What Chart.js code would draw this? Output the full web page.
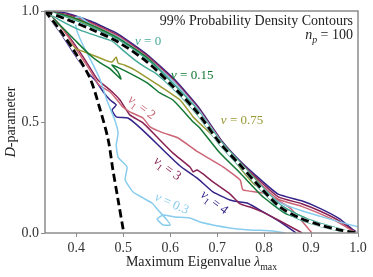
<!DOCTYPE html>
<html>
<head>
<meta charset="utf-8">
<script src="https://cdn.jsdelivr.net/npm/chart.js@4.4.1/dist/chart.umd.min.js"></script>
<style>
  html, body { margin: 0; padding: 0; background: #fff; }
  canvas { display: block; }
</style>
</head>
<body>
<canvas id="contourChart" width="373" height="277"></canvas>
<script>
// axis ticks
const xTicks = [0.4, 0.5, 0.6, 0.7, 0.8, 0.9, 1.0];
const yTicks = [0.0, 0.5, 1.0];

// dashed bounds
const upperBoundX = [0.3333, 0.382, 0.429, 0.489, 0.551, 0.606, 0.657, 0.706, 0.749, 0.791, 0.834, 0.876, 0.919, 0.962, 1.0];
const upperBoundY = [1.0, 0.96, 0.92, 0.86, 0.77, 0.66, 0.545, 0.405, 0.306, 0.207, 0.117, 0.068, 0.036, 0.013, 0.0];
const lowerBoundX = [0.3333, 0.365, 0.397, 0.429, 0.451, 0.468, 0.478, 0.489, 0.5];
const lowerBoundY = [1.0, 0.915, 0.815, 0.698, 0.554, 0.419, 0.284, 0.149, 0.014];

// shared x grid for the upper sides of the nu_1 contours
const bandX = [0.38, 0.43, 0.49, 0.55, 0.61, 0.66, 0.71, 0.75, 0.79, 0.83, 0.88, 0.92, 0.96, 0.99, 1.0];

// nu_1 = 4
const nu14LowerX = [0.868, 0.834, 0.798, 0.764, 0.749, 0.727, 0.691, 0.657, 0.621, 0.585, 0.557, 0.529, 0.510, 0.485, 0.476, 0.485, 0.472, 0.459, 0.440, 0.423, 0.393, 0.365, 0.3333];
const nu14LowerY = [0.0, 0.05, 0.095, 0.135, 0.14, 0.149, 0.185, 0.248, 0.302, 0.374, 0.432, 0.487, 0.518, 0.523, 0.554, 0.577, 0.599, 0.631, 0.689, 0.725, 0.815, 0.906, 1.0];
const nu14UpperY = [0.99, 0.955, 0.895, 0.805, 0.69, 0.568, 0.415, 0.322, 0.245, 0.175, 0.145, 0.11, 0.065, 0.014, 0.0];

// nu_1 = 3
const nu13LowerX = [0.881, 0.834, 0.796, 0.770, 0.749, 0.727, 0.691, 0.670, 0.657, 0.649, 0.642, 0.606, 0.578, 0.542, 0.514, 0.493, 0.472, 0.446, 0.419, 0.387, 0.355, 0.3333];
const nu13LowerY = [0.0, 0.054, 0.095, 0.117, 0.131, 0.176, 0.230, 0.266, 0.284, 0.275, 0.297, 0.360, 0.419, 0.496, 0.532, 0.599, 0.644, 0.689, 0.779, 0.878, 0.959, 1.0];
const nu13UpperY = [0.985, 0.95, 0.889, 0.8, 0.684, 0.562, 0.411, 0.318, 0.236, 0.163, 0.132, 0.098, 0.055, 0.01, 0.0];

// nu_1 = 2
const nu12LowerX = [0.902, 0.855, 0.798, 0.755, 0.749, 0.713, 0.659, 0.617, 0.585, 0.557, 0.542, 0.514, 0.499, 0.487, 0.472, 0.459, 0.451, 0.444, 0.429, 0.408, 0.380, 0.355, 0.3333];
const nu12LowerY = [0.0, 0.113, 0.180, 0.194, 0.239, 0.297, 0.365, 0.428, 0.451, 0.478, 0.518, 0.546, 0.568, 0.599, 0.635, 0.653, 0.662, 0.680, 0.734, 0.802, 0.892, 0.959, 1.0];
const nu12UpperY = [0.98, 0.945, 0.884, 0.795, 0.679, 0.557, 0.408, 0.314, 0.226, 0.152, 0.12, 0.086, 0.046, 0.008, 0.0];

// nu = 0.3
const nu03LowerX = [0.844, 0.819, 0.770, 0.727, 0.663, 0.642, 0.610, 0.585, 0.572, 0.585, 0.600, 0.593, 0.574, 0.561, 0.542, 0.521, 0.504, 0.508, 0.489, 0.485, 0.489, 0.482, 0.465, 0.451, 0.436, 0.423, 0.412, 0.401, 0.397, 0.408];
const nu03LowerY = [0.0, 0.009, 0.014, 0.023, 0.050, 0.068, 0.072, 0.081, 0.063, 0.036, 0.036, 0.059, 0.104, 0.135, 0.158, 0.185, 0.239, 0.297, 0.342, 0.396, 0.45, 0.509, 0.599, 0.689, 0.757, 0.811, 0.856, 0.914, 0.969, 0.973];
const nu03UpperX = [0.43, 0.49, 0.55, 0.61, 0.66, 0.71, 0.75, 0.79, 0.83, 0.88, 0.92, 0.96, 1.0];
const nu03UpperY = [0.94, 0.88, 0.79, 0.676, 0.555, 0.406, 0.31, 0.215, 0.14, 0.1, 0.075, 0.05, 0.028];

// nu = 0.15
const nu015LowerX = [0.3333, 0.365, 0.397, 0.429, 0.451, 0.472, 0.495, 0.489, 0.476, 0.504, 0.551, 0.578, 0.606, 0.649, 0.663, 0.706, 0.749, 0.798, 0.844, 0.876, 0.889];
const nu015LowerY = [1.0, 0.937, 0.869, 0.802, 0.766, 0.739, 0.694, 0.725, 0.757, 0.730, 0.676, 0.631, 0.599, 0.50, 0.473, 0.36, 0.27, 0.162, 0.09, 0.065, 0.066];
const nu015UpperX = [0.88, 0.834, 0.791, 0.749, 0.706, 0.657, 0.606, 0.551, 0.489, 0.429, 0.382, 0.3333];
const nu015UpperY = [0.075, 0.122, 0.214, 0.313, 0.413, 0.553, 0.672, 0.789, 0.878, 0.94, 0.978, 1.0];

// nu = 0.75
const nu075LowerX = [0.3333, 0.348, 0.365, 0.382, 0.397, 0.429, 0.461, 0.476, 0.485, 0.489, 0.502, 0.525, 0.574, 0.621, 0.649, 0.685, 0.721, 0.749, 0.781];
const nu075LowerY = [1.0, 0.959, 0.914, 0.869, 0.833, 0.806, 0.779, 0.770, 0.793, 0.766, 0.757, 0.734, 0.667, 0.599, 0.523, 0.450, 0.374, 0.293, 0.216];
const nu075UpperX = [0.79, 0.749, 0.706, 0.657, 0.606, 0.551, 0.489, 0.429, 0.382, 0.3333];
const nu075UpperY = [0.222, 0.315, 0.414, 0.553, 0.67, 0.78, 0.872, 0.935, 0.975, 1.0];

// nu = 0
const nu0LowerX = [0.3333, 0.365, 0.408, 0.451, 0.476, 0.499, 0.525, 0.546, 0.568, 0.606, 0.657, 0.706, 0.749, 0.791, 0.834, 0.876, 0.919, 0.962, 0.99];
const nu0LowerY = [1.0, 0.959, 0.914, 0.883, 0.865, 0.824, 0.779, 0.748, 0.721, 0.65, 0.535, 0.395, 0.297, 0.198, 0.108, 0.06, 0.03, 0.009, 0.0];
const nu0UpperX = [0.962, 0.919, 0.876, 0.834, 0.791, 0.749, 0.706, 0.657, 0.606, 0.551, 0.489, 0.429, 0.382, 0.3333];
const nu0UpperY = [0.018, 0.044, 0.078, 0.128, 0.218, 0.318, 0.417, 0.556, 0.673, 0.782, 0.87, 0.93, 0.97, 1.0];

// contour labels: [text parts, x, y, angle, colour key]
const labelPos = {
    nu0:   [0.553, 0.865, 0],
    nu015: [0.647, 0.712, 0],
    nu075: [0.753, 0.509, 0],
    nu12:  [0.540, 0.568, 37],
    nu13:  [0.595, 0.293, 37],
    nu03:  [0.604, 0.135, 24],
    nu14:  [0.695, 0.140, 37]
};

const COLORS = {
    nu0: '#44AA99',
    nu015: '#117733',
    nu03: '#88CCEE',
    nu075: '#999933',
    nu12: '#CC6677',
    nu13: '#882255',
    nu14: '#332288'
};

const FONT = "'Liberation Serif', 'Times New Roman', serif";

function series(xs, ys) {
    return xs.map((x, i) => ({ x: x, y: ys[i] }));
}

function contourSet(points, color) {
    return {
        data: points,
        showLine: true,
        borderColor: color,
        borderWidth: 1.5,
        pointRadius: 0,
        tension: 0.15,
        fill: false,
        order: 2
    };
}

// draw text made of pieces (italic / subscript)
function drawMath(ctx, parts, x, y, size, color, align, angle, middle) {
    ctx.save();
    ctx.translate(x, y);
    ctx.rotate(angle * Math.PI / 180);
    ctx.fillStyle = color;
    ctx.textBaseline = 'alphabetic';
    ctx.textAlign = 'left';
    const fontOf = p => (p.i ? 'italic ' : '') + (p.s ? size * 0.7 : size) + 'px ' + FONT;
    let w = 0;
    parts.forEach(p => { ctx.font = fontOf(p); w += ctx.measureText(p.t).width; });
    let cx = align === 'right' ? -w : (align === 'center' ? -w / 2 : 0);
    const base = middle ? size * 0.33 : 0;
    parts.forEach(p => {
        ctx.font = fontOf(p);
        ctx.fillText(p.t, cx, base + (p.s ? size * 0.25 : 0));
        cx += ctx.measureText(p.t).width;
    });
    ctx.restore();
}

const NU = '\u03bd';
const labelText = {
    nu0:   [{ t: NU, i: true }, { t: ' = 0' }],
    nu015: [{ t: NU, i: true }, { t: ' = 0.15' }],
    nu075: [{ t: NU, i: true }, { t: ' = 0.75' }],
    nu12:  [{ t: NU, i: true }, { t: '1', s: true }, { t: ' = 2' }],
    nu13:  [{ t: NU, i: true }, { t: '1', s: true }, { t: ' = 3' }],
    nu03:  [{ t: NU, i: true }, { t: ' = 0.3' }],
    nu14:  [{ t: NU, i: true }, { t: '1', s: true }, { t: ' = 4' }]
};

const textPlugin = {
    id: 'textPlugin',
    afterDraw(chart) {
        const ctx = chart.ctx;
        const a = chart.chartArea;
        const sx = chart.scales.x, sy = chart.scales.y;

        // frame
        ctx.save();
        ctx.strokeStyle = '#8c8c8c';
        ctx.lineWidth = 1.5;
        ctx.strokeRect(a.left, a.top, a.right - a.left, a.bottom - a.top);
        ctx.restore();

        // contour labels
        Object.keys(labelPos).forEach(k => {
            const p = labelPos[k];
            drawMath(ctx, labelText[k], sx.getPixelForValue(p[0]), sy.getPixelForValue(p[1]),
                13, COLORS[k], 'center', p[2], true);
        });

        // corner text
        drawMath(ctx, [{ t: '99% Probability Density Contours' }], a.right - 5, 25, 14, '#222', 'right', 0, false);
        drawMath(ctx, [{ t: 'n', i: true }, { t: 'p', i: true, s: true }, { t: ' = 100' }], a.right - 5, 39, 14, '#222', 'right', 0, false);

        // axis titles
        drawMath(ctx, [{ t: 'Maximum Eigenvalue ' }, { t: '\u03bb', i: true }, { t: 'max', s: true }],
            (a.left + a.right) / 2, 266, 14, '#222', 'center', 0, false);
        drawMath(ctx, [{ t: 'D', i: true }, { t: '-parameter' }],
            15, (a.top + a.bottom) / 2, 14, '#222', 'center', -90, false);
    }
};

const datasets = [
    // dashed bounds (white under-stroke, black dashes on top)
    { data: series(upperBoundX, upperBoundY), showLine: true, borderColor: '#ffffff', borderWidth: 3, pointRadius: 0, tension: 0.3, order: 1 },
    { data: series(lowerBoundX, lowerBoundY), showLine: true, borderColor: '#ffffff', borderWidth: 3, pointRadius: 0, tension: 0.3, order: 1 },
    { data: series(upperBoundX, upperBoundY), showLine: true, borderColor: '#000000', borderWidth: 2.8, borderDash: [8, 4], pointRadius: 0, tension: 0.3, order: 0 },
    { data: series(lowerBoundX, lowerBoundY), showLine: true, borderColor: '#000000', borderWidth: 2.8, borderDash: [8, 4], pointRadius: 0, tension: 0.3, order: 0 },

    contourSet(series(nu0LowerX, nu0LowerY).concat(series(nu0UpperX, nu0UpperY)), COLORS.nu0),
    contourSet(series(nu015LowerX, nu015LowerY).concat(series(nu015UpperX, nu015UpperY)), COLORS.nu015),
    contourSet(series(nu075LowerX, nu075LowerY).concat(series(nu075UpperX, nu075UpperY)), COLORS.nu075),
    contourSet(series(nu03LowerX, nu03LowerY).concat(series(nu03UpperX, nu03UpperY)), COLORS.nu03),
    contourSet(series(nu12LowerX, nu12LowerY).concat(series(bandX, nu12UpperY)), COLORS.nu12),
    contourSet(series(nu13LowerX, nu13LowerY).concat(series(bandX, nu13UpperY)), COLORS.nu13),
    contourSet(series(nu14LowerX, nu14LowerY).concat(series(bandX, nu14UpperY)), COLORS.nu14)
];

new Chart(document.getElementById('contourChart'), {
    type: 'scatter',
    data: { datasets: datasets },
    options: {
        responsive: false,
        animation: false,
        devicePixelRatio: 1,
        layout: { padding: { top: 11, right: 15, left: 0, bottom: 0 } },
        plugins: {
            legend: { display: false },
            tooltip: { enabled: false }
        },
        scales: {
            x: {
                type: 'linear',
                min: 1 / 3,
                max: 1,
                afterBuildTicks: scale => { scale.ticks = xTicks.map(v => ({ value: v })); },
                afterFit: scale => { scale.height = 44; },
                ticks: {
                    autoSkip: false,
                    maxRotation: 0,
                    padding: 3,
                    color: '#333',
                    font: { family: FONT, size: 14 },
                    callback: v => v.toFixed(1)
                },
                grid: { display: true, drawOnChartArea: false, drawTicks: true, tickLength: 4, color: '#8c8c8c', lineWidth: 1 },
                border: { display: false }
            },
            y: {
                type: 'linear',
                min: 0,
                max: 1,
                afterBuildTicks: scale => { scale.ticks = yTicks.map(v => ({ value: v })); },
                afterFit: scale => { scale.width = 45; },
                ticks: {
                    autoSkip: false,
                    padding: 2,
                    color: '#333',
                    font: { family: FONT, size: 14 },
                    callback: v => v.toFixed(1)
                },
                grid: { display: true, drawOnChartArea: false, drawTicks: true, tickLength: 4, color: '#8c8c8c', lineWidth: 1 },
                border: { display: false }
            }
        }
    },
    plugins: [textPlugin]
});
</script>
</body>
</html>
